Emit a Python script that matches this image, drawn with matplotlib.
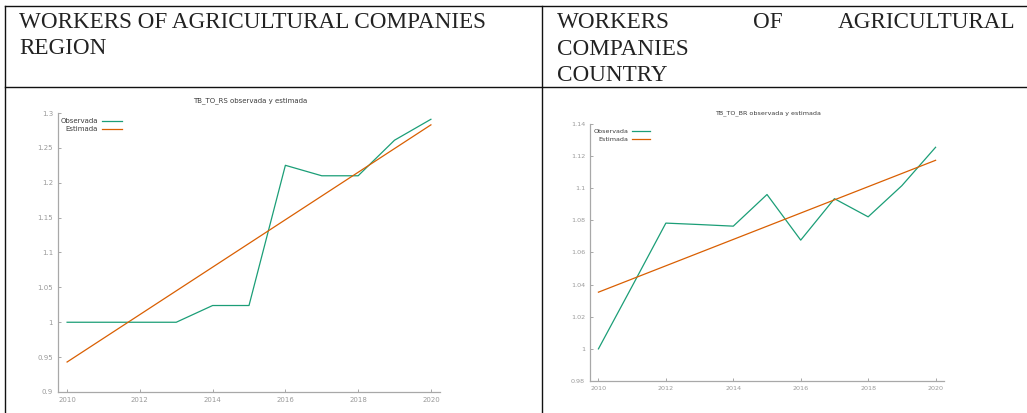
import matplotlib.pyplot as plt
from matplotlib.lines import Line2D

# series (observed vs. fitted trend)
years = [2010, 2011, 2012, 2013, 2014, 2015, 2016, 2017, 2018, 2019, 2020]

rs_obs = [1.0, 1.0, 1.0, 1.0, 1.024, 1.024, 1.225, 1.21, 1.21, 1.261, 1.291]
rs_est_ends = [0.943, 1.283]

br_obs = [1.0, 1.039, 1.0783, 1.0774, 1.0764, 1.0961, 1.0677, 1.0935, 1.0822, 1.1016, 1.1255]
br_est_ends = [1.0353, 1.1174]

rs_yticks = [0.9, 0.95, 1.0, 1.05, 1.1, 1.15, 1.2, 1.25, 1.3]
br_yticks = [0.98, 1.0, 1.02, 1.04, 1.06, 1.08, 1.1, 1.12, 1.14]
xticks = [2010, 2012, 2014, 2016, 2018, 2020]

GREEN = '#1b9e77'
ORANGE = '#d95f02'
AXIS_GREY = '#a8a8a8'
LABEL_GREY = '#9a9a9a'
TEXT_DARK = '#3c3c3c'

W, H = 1027, 413
fig = plt.figure(figsize=(W / 100, H / 100), dpi=100)


def fx(px):
    return px / W


def fy(py):
    return 1 - py / H


# table borders
table_lines = [
    ([5, 1026], [6, 6]),
    ([5, 1026], [87, 87]),
    ([5, 5], [6, 413]),
    ([542, 542], [6, 413]),
]
for xs, ys in table_lines:
    fig.add_artist(Line2D([fx(x) for x in xs], [fy(y) for y in ys],
                          color='#111111', lw=1.0))

# cell headers
hdr = dict(family='Liberation Serif', fontsize=16.7, color='#222222', va='baseline')
fig.text(fx(19), fy(28.3), 'WORKERS OF AGRICULTURAL COMPANIES', **hdr)
fig.text(fx(19), fy(54.5), 'REGION', **hdr)
fig.text(fx(557), fy(28.3), 'WORKERS', **hdr)
fig.text(fx(753), fy(28.3), 'OF', **hdr)
fig.text(fx(1015), fy(28.3), 'AGRICULTURAL', ha='right', **hdr)
fig.text(fx(557), fy(54.7), 'COMPANIES', **hdr)
fig.text(fx(557), fy(81), 'COUNTRY', **hdr)


def draw_panel(box, obs, est_ends, yticks, title, title_y, fs, leg):
    left, top, right, bottom = box
    ax = fig.add_axes([fx(left), fy(bottom), fx(right) - fx(left), fy(top) - fy(bottom)])
    ax.plot(years, obs, color=GREEN, lw=0.9)
    ax.plot([years[0], years[-1]], est_ends, color=ORANGE, lw=0.9)
    ax.set_xlim(2009.75, 2020.25)
    ax.set_ylim(yticks[0], yticks[-1])
    ax.set_xticks(xticks)
    ax.set_yticks(yticks)
    ax.set_yticklabels([f'{v:g}' for v in yticks])
    for s in ['top', 'right']:
        ax.spines[s].set_visible(False)
    for s in ['left', 'bottom']:
        ax.spines[s].set_color(AXIS_GREY)
        ax.spines[s].set_linewidth(0.9)
    ax.tick_params(direction='in', length=2.5, width=0.7, color=AXIS_GREY,
                   labelcolor=LABEL_GREY, labelsize=fs)
    ax.tick_params(axis='y', pad=3.6)
    ax.tick_params(axis='x', pad=3.8)
    ax.patch.set_alpha(0)
    fig.text(fx((left + right) / 2 + 1), fy(title_y), title, ha='center', va='center',
             fontsize=fs, color=TEXT_DARK)

    # legend: label on the left, line sample on the right
    tx, y1, y2, lx0, lx1 = leg
    for y, lab, col in [(y1, 'Observada', GREEN), (y2, 'Estimada', ORANGE)]:
        fig.text(fx(tx), fy(y), lab, ha='right', va='center', fontsize=fs, color=TEXT_DARK)
        fig.add_artist(Line2D([fx(lx0), fx(lx1)], [fy(y - 0.5), fy(y - 0.5)],
                              color=col, lw=0.9))
    return ax


draw_panel((58, 113, 440, 392), rs_obs, rs_est_ends, rs_yticks,
           'TB_TO_RS observada y estimada', 101, 5.0, (98, 121, 129.3, 102, 122))
draw_panel((590, 124, 944, 381), br_obs, br_est_ends, br_yticks,
           'TB_TO_BR observada y estimada', 113, 4.6, (628.3, 131.3, 139.3, 632, 650))

fig.savefig('out.png', dpi=100)
